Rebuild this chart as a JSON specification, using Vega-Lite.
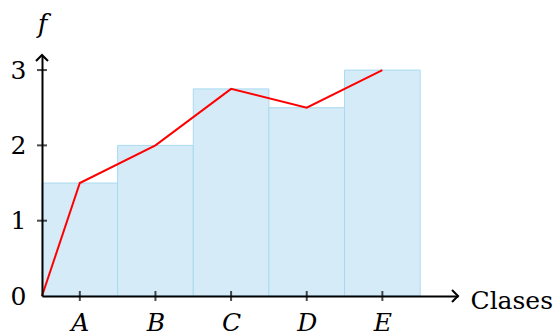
{
  "$schema": "https://vega.github.io/schema/vega-lite/v6.json",
  "width": 416,
  "height": 241,
  "autosize": {"type": "none"},
  "padding": {"left": 42, "top": 55, "right": 97, "bottom": 39},
  "background": "white",
  "config": {"view": {"stroke": null}},
  "datasets": {
    "bars": [
      {"clase": "A", "x0": 0, "x1": 1, "f": 1.5},
      {"clase": "B", "x0": 1, "x1": 2, "f": 2},
      {"clase": "C", "x0": 2, "x1": 3, "f": 2.75},
      {"clase": "D", "x0": 3, "x1": 4, "f": 2.5},
      {"clase": "E", "x0": 4, "x1": 5, "f": 3}
    ],
    "poly": [
      {"px": 0, "py": 0},
      {"px": 0.5, "py": 1.5},
      {"px": 1.5, "py": 2},
      {"px": 2.5, "py": 2.75},
      {"px": 3.5, "py": 2.5},
      {"px": 4.5, "py": 3}
    ],
    "xticks": [{"t": 0.5}, {"t": 1.5}, {"t": 2.5}, {"t": 3.5}, {"t": 4.5}],
    "yticks": [{"t": 1}, {"t": 2}, {"t": 3}]
  },
  "layer": [
    {
      "data": {"name": "bars"},
      "mark": {"type": "rect", "fill": "#d5ebf8", "stroke": "#a9daf0", "strokeWidth": 1},
      "encoding": {
        "x": {
          "field": "x0", "type": "quantitative",
          "scale": {"domain": [0, 5.5], "nice": false, "zero": false},
          "axis": {
            "values": [0.5, 1.5, 2.5, 3.5, 4.5],
            "labelExpr": "['A','B','C','D','E'][floor(datum.value)]",
            "grid": false, "ticks": false, "tickSize": 0,
            "domain": true, "domainColor": "black", "domainWidth": 2,
            "labelFont": "DejaVu Serif", "labelFontSize": 25, "labelFontStyle": "italic",
            "labelColor": "black", "labelPadding": 14, "labelAngle": 0,
            "title": "Clases", "titleFont": "DejaVu Serif", "titleFontSize": 25,
            "titleFontWeight": "normal", "titleColor": "black",
            "titleX": 428, "titleY": 12, "titleAlign": "left", "titleBaseline": "alphabetic",
            "zindex": 1
          }
        },
        "x2": {"field": "x1"},
        "y": {
          "field": "f", "type": "quantitative",
          "scale": {"domain": [0, 3.2], "nice": false, "zero": false},
          "axis": {
            "values": [0, 1, 2, 3], "format": "d",
            "grid": false, "ticks": false, "tickSize": 0,
            "domain": true, "domainColor": "black", "domainWidth": 2,
            "labelFont": "DejaVu Serif", "labelFontSize": 25,
            "labelColor": "black", "labelPadding": 16, "labelBaseline": "middle",
            "title": "f", "titleFont": "DejaVu Serif", "titleFontSize": 26,
            "titleFontStyle": "italic", "titleFontWeight": "normal", "titleColor": "black",
            "titleAngle": 0, "titleX": 0, "titleY": -23, "titleAlign": "center",
            "titleBaseline": "alphabetic",
            "zindex": 1
          }
        },
        "y2": {"datum": 0}
      }
    },
    {
      "data": {"name": "poly"},
      "mark": {"type": "line", "color": "#ff0000", "strokeWidth": 2},
      "encoding": {
        "x": {"field": "px", "type": "quantitative"},
        "y": {"field": "py", "type": "quantitative"}
      }
    },
    {
      "data": {"name": "xticks"},
      "mark": {"type": "tick", "orient": "vertical", "color": "black", "size": 10, "thickness": 2},
      "encoding": {
        "x": {"field": "t", "type": "quantitative"},
        "y": {"datum": 0, "type": "quantitative"}
      }
    },
    {
      "data": {"name": "yticks"},
      "mark": {"type": "tick", "orient": "horizontal", "color": "black", "size": 10, "thickness": 2},
      "encoding": {
        "x": {"datum": 0, "type": "quantitative"},
        "y": {"field": "t", "type": "quantitative"}
      }
    },
    {
      "data": {"values": [{"a": 1}]},
      "mark": {"type": "point", "shape": "M-1,-1L0,0L-1,1", "filled": false, "stroke": "black", "strokeWidth": 2, "size": 144, "opacity": 1},
      "encoding": {
        "x": {"datum": 5.5, "type": "quantitative"},
        "y": {"datum": 0, "type": "quantitative"}
      }
    },
    {
      "data": {"values": [{"a": 1}]},
      "mark": {"type": "point", "shape": "M-1,1L0,0L1,1", "filled": false, "stroke": "black", "strokeWidth": 2, "size": 144, "opacity": 1},
      "encoding": {
        "x": {"datum": 0, "type": "quantitative"},
        "y": {"datum": 3.2, "type": "quantitative"}
      }
    }
  ]
}
